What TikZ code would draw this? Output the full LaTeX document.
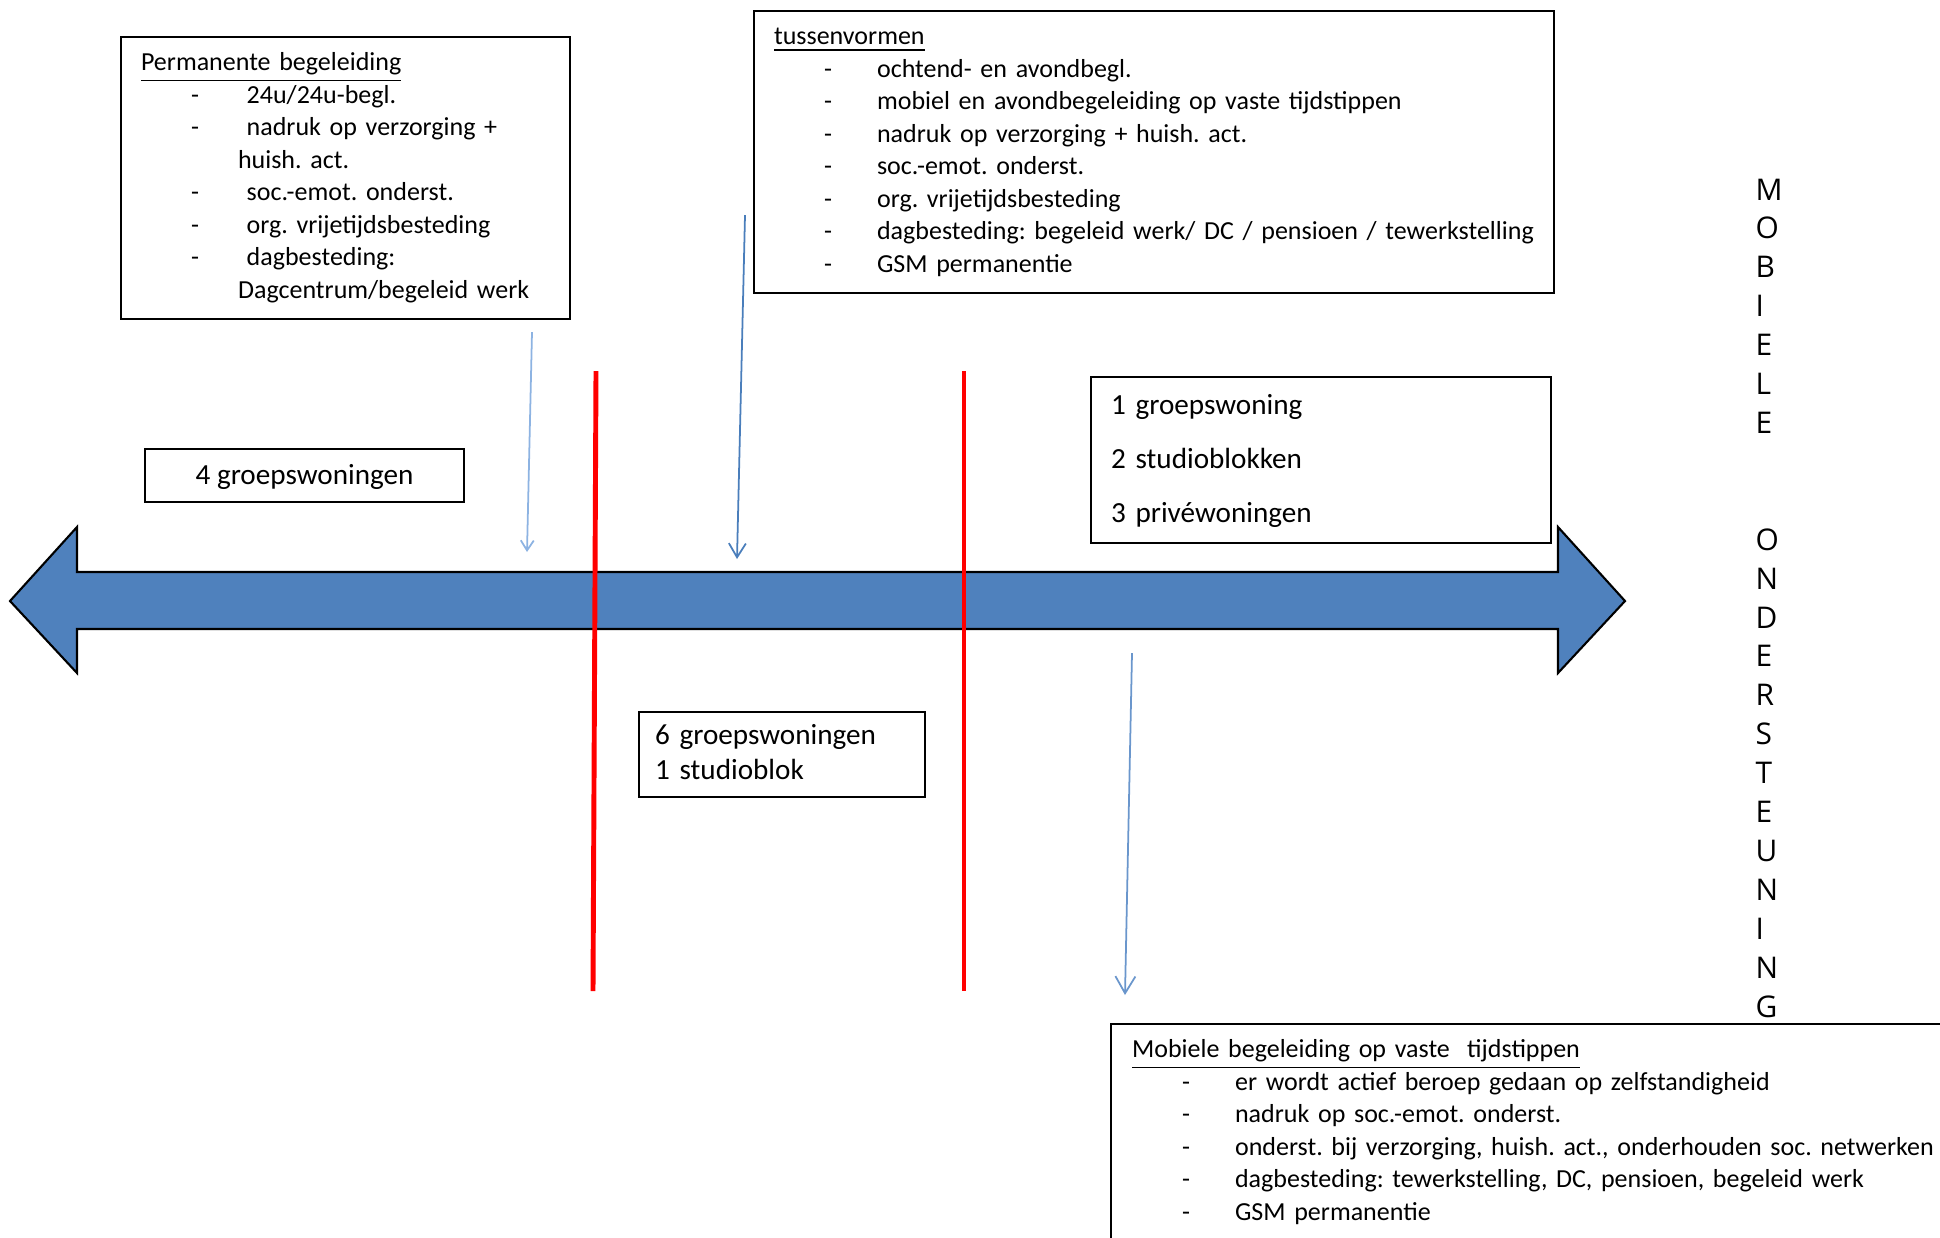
\documentclass[tikz,border=0pt]{standalone}
\usepackage{fontspec}
\setmainfont{Carlito}
\newfontfamily\letterfont{Open Sans}
\usepackage{xcolor}
\usepackage{tikz}
\usetikzlibrary{arrows.meta,positioning}
\frenchspacing

\definecolor{pijlblauw}{HTML}{4F81BD}
\definecolor{lijnblauw}{HTML}{4A7EBB}
\definecolor{middenblauw}{HTML}{6A96CC}
\definecolor{lichtblauw}{HTML}{8DB3E2}

\newcommand{\kop}[1]{\mbox{\strut\smash{\underline{#1}}}}
\newcommand{\streep}[2][1.03cm]{\mbox{\strut\makebox[#1][l]{\hspace{0.5cm}-}#2}}
\newcommand{\regel}[1]{\mbox{\strut #1}}
\newcommand{\vakregel}[3]{\mbox{\rule[-#2]{0pt}{\dimexpr#1+#2\relax}#3}}

\tikzset{
	kader/.style={draw,line width=0.6pt,anchor=north west,align=left,inner xsep=0.20cm,inner ysep=0.11cm,font=\fontsize{7.4}{9.25}\selectfont},
	grens/.style={red,line width=1.4pt},
	wijzer/.style={line width=0.5pt},
}

\begin{document}
\begin{tikzpicture}
		\useasboundingbox (0,0) rectangle (19.40,-12.37);
		\clip (0,0) rectangle (19.40,-12.37);
		% de dubbele pijl
		\draw[fill=pijlblauw,line width=0.6pt] (0.10,-6.01) -- (0.77,-5.27) -- (0.77,-5.72) -- (15.58,-5.72) -- (15.58,-5.27) -- (16.25,-6.01) -- (15.58,-6.73) -- (15.58,-6.29) -- (0.77,-6.29) -- (0.77,-6.73) -- cycle;
		\draw[grens] (5.96,-3.71) -- (5.93,-9.91);
		\draw[grens] (9.64,-3.71) -- (9.64,-9.91);
		% blokken
		\node[kader,text width=4.09cm] (perm) at (1.20,-0.36) {\kop{Permanente begeleiding}\\
			\streep[0.97cm]{\ 24u/24u-begl.}\\
			\streep[0.97cm]{\ nadruk op verzorging +}\\
			\regel{\hspace{0.97cm}huish. act.}\\
			\streep[0.97cm]{\ soc.-emot. onderst.}\\
			\streep[0.97cm]{\ org. vrijetijdsbesteding}\\
			\streep[0.97cm]{\ dagbesteding:}\\
			\regel{\hspace{0.97cm}Dagcentrum/begeleid werk}};
		\node[kader,text width=7.60cm] (tussen) at (7.53,-0.10) {\kop{tussenvormen}\\
			\streep{ochtend- en avondbegl.}\\
			\streep{mobiel en avondbegeleiding op vaste tijdstippen}\\
			\streep{nadruk op verzorging + huish. act.}\\
			\streep{soc.-emot. onderst.}\\
			\streep{org. vrijetijdsbesteding}\\
			\streep{dagbesteding: begeleid werk/ DC / pensioen / tewerkstelling}\\
			\streep{GSM permanentie}};
		\node[kader,align=center,minimum width=3.19cm,text height=0.245cm,text depth=0.065cm,font=\fontsize{8.3}{9.96}\selectfont] (woon4) at (1.44,-4.48) {4 groepswoningen};
		\node[kader,text width=4.20cm,inner ysep=0cm,minimum height=1.66cm,font=\fontsize{8.3}{15.36}\selectfont] (woon1) at (10.90,-3.76) {\vakregel{0.357cm}{0.15cm}{1 groepswoning}\\
			\regel{2 studioblokken}\\
			\vakregel{0.37cm}{0.195cm}{3 privéwoningen}};
		\node[kader,text width=2.54cm,inner xsep=0.16cm,inner ysep=0.075cm,font=\fontsize{8.3}{9.96}\selectfont] (woon6) at (6.38,-7.11) {\regel{6 groepswoningen}\\
			\regel{1 studioblok}};
		\node[kader,text width=8.50cm,inner xsep=0.21cm] (mobiel) at (11.10,-10.23) {\kop{Mobiele begeleiding op vaste\ \ tijdstippen}\\
			\streep{er wordt actief beroep gedaan op zelfstandigheid}\\
			\streep{nadruk op soc.-emot. onderst.}\\
			\streep{onderst. bij verzorging, huish. act., onderhouden soc. netwerken}\\
			\streep{dagbesteding: tewerkstelling, DC, pensioen, begeleid werk}\\
			\streep{GSM permanentie}};
		\node[anchor=north west,inner sep=0pt,align=left,font=\letterfont\fontsize{8.5}{11.07}\selectfont] (letters) at (17.55,-1.78) {M\\O\\B\\I\\E\\L\\E\\[0.778cm]O\\N\\D\\E\\R\\S\\T\\E\\U\\N\\I\\N\\G};
		% pijltjes naar de as
		\coordinate (van1) at (5.32,-3.32);
		\coordinate (naar1) at (5.27,-5.52);
		\coordinate (van2) at (7.45,-2.15);
		\coordinate (naar2) at (7.37,-5.59);
		\coordinate (van3) at (11.32,-6.53);
		\coordinate (naar3) at (11.25,-9.95);
		\draw[wijzer,lichtblauw,-{Straight Barb[length=0.10cm,width=0.13cm]}] (van1) -- (naar1);
		\draw[wijzer,lijnblauw,-{Straight Barb[length=0.14cm,width=0.17cm]}] (van2) -- (naar2);
		\draw[wijzer,middenblauw,-{Straight Barb[length=0.17cm,width=0.20cm]}] (van3) -- (naar3);
	\end{tikzpicture}
\end{document}
